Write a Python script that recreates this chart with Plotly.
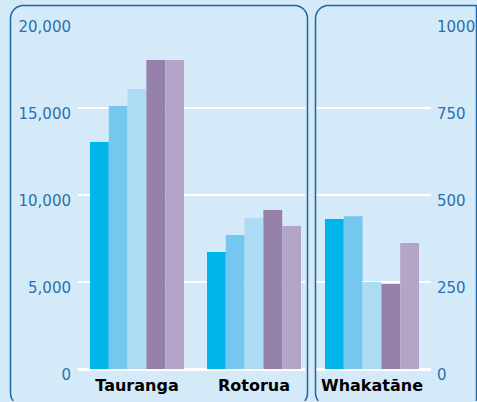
import math
import plotly.graph_objects as go

# ---- data ----
left_cities = ["Tauranga", "Rotorua"]
right_cities = ["Whakatāne"]
series_names = ["Period 1", "Period 2", "Period 3", "Period 4", "Period 5"]
tauranga = [13060, 15130, 16110, 17780, 17780]
rotorua = [6740, 7720, 8700, 9160, 8240]
whakatane = [432, 440, 251, 245, 363]

left_ticks = [0, 5000, 10000, 15000, 20000]
right_ticks = [0, 250, 500, 750, 1000]
right_ticktext = ["0", "250", "500", "750", "1000"]

colors = ["#00b5ea", "#76c7ef", "#addbf4", "#9581aa", "#b4a4c7"]

W, H = 477, 402
BG = "#d5eaf8"
BORDER = "#1d66a8"
TICK = "#2a70ae"
FONT = "DejaVu Sans"


def px_x(v):
    return v / W


def px_y(v):
    return 1 - v / H


def panel_outline(x0, y0, x1, y1, r, ymax=H - 0.5, xmax=W - 0.5, n=12):
    """Rounded-rectangle outline in pixels, sampled and clipped to the page."""
    pts = []

    def arc(cx, cy, a0, a1):
        for j in range(n + 1):
            a = a0 + (a1 - a0) * j / n
            pts.append((cx + r * math.cos(a), cy + r * math.sin(a)))

    # bottom-left corner up the left side, across the top, down the right side
    arc(x0 + r, y1 - r, math.pi / 2, math.pi)
    arc(x0 + r, y0 + r, math.pi, 1.5 * math.pi)
    arc(x1 - r, y0 + r, 1.5 * math.pi, 2 * math.pi)
    arc(x1 - r, y1 - r, 0, math.pi / 2)
    kept = [(min(x, xmax), y) for x, y in pts if y <= ymax]
    return "M" + " L".join(f"{px_x(x):.5f},{px_y(y):.5f}" for x, y in kept)


fig = go.Figure()

for i, name in enumerate(series_names):
    fig.add_trace(go.Bar(
        x=left_cities, y=[tauranga[i], rotorua[i]], name=name,
        marker=dict(color=colors[i], line=dict(width=0)),
        xaxis="x", yaxis="y", showlegend=False,
    ))
    fig.add_trace(go.Bar(
        x=right_cities, y=[whakatane[i]], name=name,
        marker=dict(color=colors[i], line=dict(width=0)),
        xaxis="x2", yaxis="y2", showlegend=False,
    ))

ydom = [px_y(369.3), px_y(21.3)]
unit = 117.0

fig.update_layout(
    width=W, height=H,
    margin=dict(l=0, r=0, t=0, b=0, autoexpand=False),
    paper_bgcolor=BG, plot_bgcolor="rgba(0,0,0,0)",
    barmode="group", bargap=1 - 94 / unit, bargroupgap=0,
    font=dict(family=FONT),
    xaxis=dict(
        domain=[px_x(78), px_x(305)],
        range=[-(137 - 78) / unit, 1 + (305 - 254) / unit],
        showgrid=False, showline=False, zeroline=False, ticks="",
        tickfont=dict(family=FONT, size=16, color="#000000", weight="bold"),
        ticklabelstandoff=5, automargin=False,
        anchor="y",
    ),
    yaxis=dict(
        domain=ydom, range=[0, 20000],
        tickvals=left_ticks, tickformat=",",
        showgrid=True, gridcolor="#ffffff", gridwidth=1.5,
        zeroline=True, zerolinecolor="#ffffff", zerolinewidth=2.5,
        showline=False, ticks="",
        tickfont=dict(family=FONT, size=15, color=TICK),
        ticklabelstandoff=6, ticklabelshift=5, automargin=False,
        anchor="x",
    ),
    xaxis2=dict(
        domain=[px_x(316), px_x(431)],
        range=[-(372 - 316) / unit, (431 - 372) / unit],
        showgrid=False, showline=False, zeroline=False, ticks="",
        tickfont=dict(family=FONT, size=16, color="#000000", weight="bold"),
        ticklabelstandoff=5, automargin=False,
        anchor="y2",
    ),
    yaxis2=dict(
        domain=ydom, range=[0, 1000], side="right",
        tickvals=right_ticks, ticktext=right_ticktext,
        showgrid=True, gridcolor="#ffffff", gridwidth=1.5,
        zeroline=True, zerolinecolor="#ffffff", zerolinewidth=2.5,
        showline=False, ticks="",
        tickfont=dict(family=FONT, size=15, color=TICK),
        ticklabelstandoff=5, ticklabelshift=5, automargin=False,
        anchor="x2",
    ),
    shapes=[
        dict(type="path", xref="paper", yref="paper",
             path=panel_outline(10.5, 5.5, 307.5, 406, 13),
             line=dict(color=BORDER, width=1.5), layer="above"),
        dict(type="path", xref="paper", yref="paper",
             path=panel_outline(315.5, 5.5, 500, 406, 13),
             line=dict(color=BORDER, width=1.5), layer="above"),
    ],
)

fig.write_html("out.html")
